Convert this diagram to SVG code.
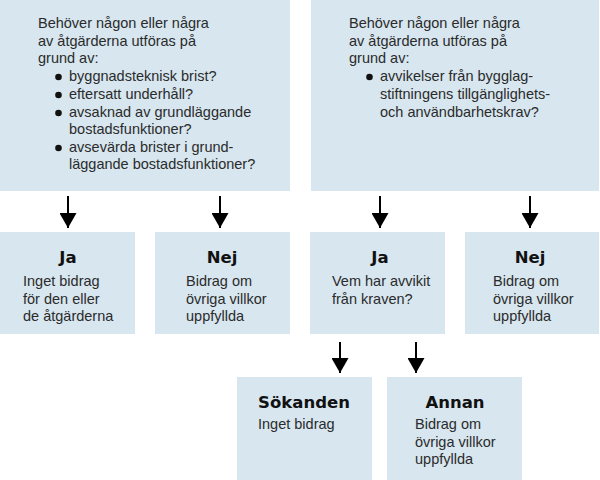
<svg xmlns="http://www.w3.org/2000/svg" width="600" height="480" viewBox="0 0 600 480">
<defs>
<style>
.box{fill:#d7e6ef;}
.t{font-family:"Liberation Sans","Noto Sans",sans-serif;font-size:14.5px;fill:#2b2b2b;}
.h{font-family:"DejaVu Sans","Liberation Sans",sans-serif;font-size:16.5px;font-weight:bold;fill:#111;text-anchor:middle;}
.ln{stroke:#000;stroke-width:2;fill:none;}
.dot{fill:#111;}
</style>
<marker id="ah" viewBox="0 0 15 17" refX="15" refY="8.5" markerWidth="15" markerHeight="17" markerUnits="userSpaceOnUse" orient="auto">
<path d="M0,0 L15,8.5 L0,17 z" fill="#000"/>
</marker>
</defs>
<rect width="600" height="480" fill="#fff"/>
<g id="q1">
<rect class="box" x="0" y="0" width="290" height="191"/>
<text class="t" x="38" y="28">Behöver någon eller några</text>
<text class="t" x="38" y="46">av åtgärderna utföras på</text>
<text class="t" x="38" y="63">grund av:</text>
<circle class="dot" cx="58.5" cy="77" r="3.3"/>
<text class="t" x="69" y="81">byggnadsteknisk brist?</text>
<circle class="dot" cx="58.5" cy="95" r="3.3"/>
<text class="t" x="69" y="99">eftersatt underhåll?</text>
<circle class="dot" cx="58.5" cy="113" r="3.3"/>
<text class="t" x="69" y="117">avsaknad av grundläggande</text>
<text class="t" x="69" y="134">bostadsfunktioner?</text>
<circle class="dot" cx="58.5" cy="148" r="3.3"/>
<text class="t" x="69" y="152">avsevärda brister i grund-</text>
<text class="t" x="69" y="169">läggande bostadsfunktioner?</text>
</g>
<g id="q2">
<rect class="box" x="311" y="0" width="288" height="191"/>
<text class="t" x="349" y="28">Behöver någon eller några</text>
<text class="t" x="349" y="46">av åtgärderna utföras på</text>
<text class="t" x="349" y="63">grund av:</text>
<circle class="dot" cx="369.5" cy="77" r="3.3"/>
<text class="t" x="380" y="81">avvikelser från bygglag-</text>
<text class="t" x="380" y="99">stiftningens tillgänglighets-</text>
<text class="t" x="380" y="117">och användbarhetskrav?</text>
</g>
<g id="ja1">
<rect class="box" x="0" y="232" width="135" height="102"/>
<text class="h" x="68" y="263">Ja</text>
<text class="t" x="23" y="286">Inget bidrag</text>
<text class="t" x="23" y="304">för den eller</text>
<text class="t" x="23" y="321">de åtgärderna</text>
</g>
<g id="nej1">
<rect class="box" x="155" y="232" width="135" height="102"/>
<text class="h" x="222" y="263">Nej</text>
<text class="t" x="186" y="286">Bidrag om</text>
<text class="t" x="186" y="304">övriga villkor</text>
<text class="t" x="186" y="321">uppfyllda</text>
</g>
<g id="ja2">
<rect class="box" x="310" y="232" width="135" height="102"/>
<text class="h" x="380" y="263">Ja</text>
<text class="t" x="332" y="286">Vem har avvikit</text>
<text class="t" x="332" y="304">från kraven?</text>
</g>
<g id="nej2">
<rect class="box" x="465" y="232" width="134" height="102"/>
<text class="h" x="530" y="263">Nej</text>
<text class="t" x="493" y="286">Bidrag om</text>
<text class="t" x="493" y="304">övriga villkor</text>
<text class="t" x="493" y="321">uppfyllda</text>
</g>
<g id="sokanden">
<rect class="box" x="237" y="377" width="135" height="103"/>
<text class="h" x="304" y="408">Sökanden</text>
<text class="t" x="258" y="429">Inget bidrag</text>
</g>
<g id="annan">
<rect class="box" x="387" y="377" width="135" height="103"/>
<text class="h" x="455" y="408">Annan</text>
<text class="t" x="415" y="429">Bidrag om</text>
<text class="t" x="415" y="447">övriga villkor</text>
<text class="t" x="415" y="464">uppfyllda</text>
</g>
<g id="connectors">
<path class="ln" d="M68,196 V228" marker-end="url(#ah)"/>
<path class="ln" d="M220,196 V228" marker-end="url(#ah)"/>
<path class="ln" d="M380,196 V228" marker-end="url(#ah)"/>
<path class="ln" d="M530,196 V228" marker-end="url(#ah)"/>
<path class="ln" d="M340,342 V373" marker-end="url(#ah)"/>
<path class="ln" d="M416,342 V373" marker-end="url(#ah)"/>
</g>
</svg>
